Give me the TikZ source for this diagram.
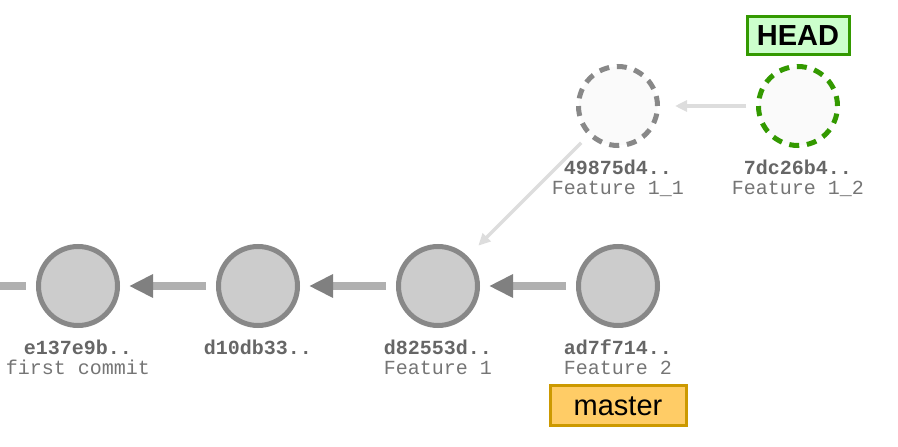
\documentclass[tikz,border=0pt]{standalone}
\usepackage{fontspec}
\setmainfont{Liberation Sans}
\setmonofont{Liberation Mono}
\usetikzlibrary{arrows.meta,positioning}
\definecolor{commitfill}{HTML}{CCCCCC}
\definecolor{commitline}{HTML}{888888}
\definecolor{parentline}{HTML}{B0B0B0}
\definecolor{parenthead}{HTML}{808080}
\definecolor{ghostline}{HTML}{DDDDDD}
\definecolor{ghostfill}{HTML}{FAFAFA}
\definecolor{headfill}{HTML}{CCFFCC}
\definecolor{headline}{HTML}{339900}
\definecolor{masterfill}{HTML}{FFCC66}
\definecolor{masterline}{HTML}{CC9900}
\definecolor{hashtext}{HTML}{666666}
\begin{document}
\begin{tikzpicture}[x=1pt, y=-1pt,
  commit/.style={circle, draw=commitline, fill=commitfill, line width=5pt, minimum size=79pt, inner sep=0pt},
  ghost/.style={circle, draw=#1, fill=ghostfill, line width=5pt, minimum size=79pt, inner sep=0pt, dash pattern=on 10pt off 7.73pt},
  commitlabel/.style={font=\ttfamily\fontsize{20}{20}\selectfont, text=hashtext, align=center, inner sep=0pt},
  parent/.style={draw=parentline, line width=8pt, -{Triangle[length=24pt, width=22pt, color=parenthead]}, shorten <=10pt, shorten >=9pt},
  ghostarrow/.style={draw=ghostline, line width=3.5pt, -{Triangle[length=12pt, width=11pt]}, shorten <=10pt, shorten >=15pt},
  ref/.style={draw=#1, line width=3pt, inner sep=0pt, font=\fontsize{29}{29}\selectfont}]
  \useasboundingbox (0,0) rectangle (898,447);
  % master line
  \foreach \i/\x/\hash/\msg in {1/78/e137e9b../first commit, 2/258/d10db33../, 3/438/d82553d../Feature 1, 4/618/ad7f714../Feature 2} {
    \node[commit] (c\i) at (\x,286) {};
    \node[commitlabel, below=12pt of c\i] (l\i) {\textbf{\hash}\\\color{hashtext!90!white}\msg};
  }
  % detached commits
  \node[ghost=commitline] (g1) at (618,106) {};
  \node[ghost=headline] (g2) at (798,106) {};
  \node[commitlabel, below=12pt of g1] (m1) {\textbf{49875d4..}\\\color{hashtext!90!white}Feature 1\_1};
  \node[commitlabel, below=12pt of g2] (m2) {\textbf{7dc26b4..}\\\color{hashtext!90!white}Feature 1\_2};
  % refs
  \node[ref=headline, fill=headfill, minimum width=102pt, minimum height=38pt, above=8pt of g2] (head) {\textbf{HEAD}};
  \node[ref=masterline, fill=masterfill, minimum width=136pt, minimum height=40pt, below=9pt of l4] (master) {master};
  % parents
  \coordinate (tail) at (0,286);
  \draw[draw=parentline, line width=8pt, shorten >=10pt] (tail) -- (c1);
  \foreach \i in {1,...,3} {
    \draw[parent] (c\the\numexpr\i+1\relax) -- (c\i);
  }
  \draw[ghostarrow] (g2) -- (g1);
  \draw[ghostarrow] (g1) -- (c3);
\end{tikzpicture}
\end{document}
